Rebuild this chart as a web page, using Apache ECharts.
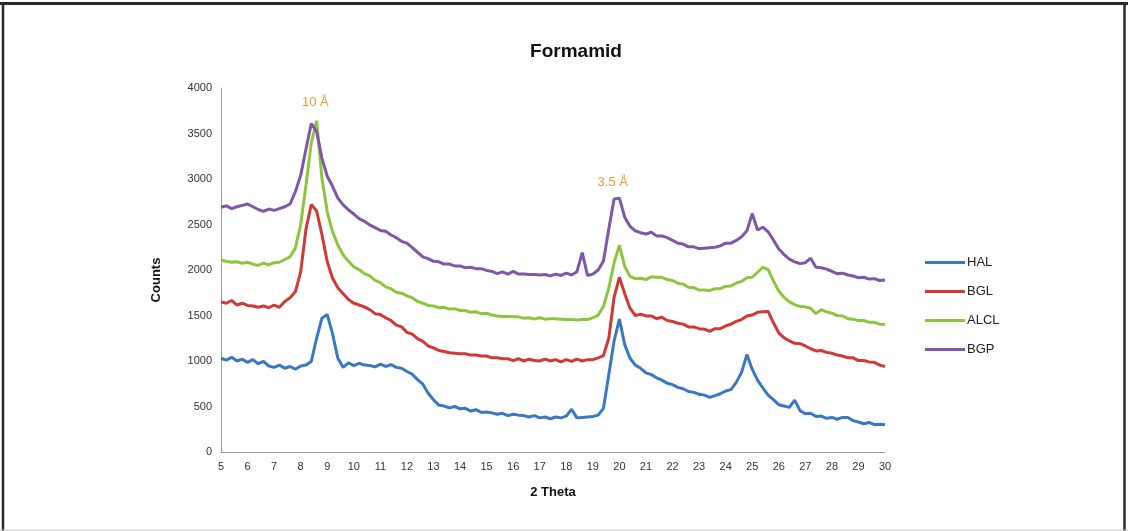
<!DOCTYPE html>
<html>
<head>
<meta charset="utf-8">
<script src="https://cdn.jsdelivr.net/npm/echarts@6/dist/echarts.min.js"></script>
<style>html,body{margin:0;padding:0;background:#fff;}#c{width:1128px;height:531px;}</style>
</head>
<body>
<div id="c"></div>
<script>
const theta = [
5.0,5.2,5.4,5.6,5.8, 6.0,6.2,6.4,6.6,6.8, 7.0,7.2,7.4,7.6,7.8, 8.0,8.2,8.4,8.6,8.8,
9.0,9.2,9.4,9.6,9.8, 10.0,10.2,10.4,10.6,10.8, 11.0,11.2,11.4,11.6,11.8, 12.0,12.2,12.4,12.6,12.8,
13.0,13.2,13.4,13.6,13.8, 14.0,14.2,14.4,14.6,14.8, 15.0,15.2,15.4,15.6,15.8, 16.0,16.2,16.4,16.6,16.8,
17.0,17.2,17.4,17.6,17.8, 18.0,18.2,18.4,18.6,18.8, 19.0,19.2,19.4,19.6,19.8, 20.0,20.2,20.4,20.6,20.8,
21.0,21.2,21.4,21.6,21.8, 22.0,22.2,22.4,22.6,22.8, 23.0,23.2,23.4,23.6,23.8, 24.0,24.2,24.4,24.6,24.8,
25.0,25.2,25.4,25.6,25.8, 26.0,26.2,26.4,26.6,26.8, 27.0,27.2,27.4,27.6,27.8, 28.0,28.2,28.4,28.6,28.8,
29.0,29.2,29.4,29.6,29.8, 30.0];

const HAL = [
1030,1010,1040,1000,1020, 985,1015,970,995,945, 930,955,920,940,910, 945,955,995,1250,1470,
1510,1300,1030,930,980, 950,975,955,950,935, 965,940,960,930,920, 885,855,795,745,645,
575,515,505,485,500, 475,480,450,465,435, 440,430,415,425,400, 415,405,400,385,400,
375,385,365,385,375, 395,470,375,380,385, 390,405,480,850,1220, 1460,1180,1030,955,920,
870,850,815,790,755, 740,710,695,665,655, 635,625,600,620,640, 670,685,765,875,1070,
910,790,705,625,575, 520,505,490,570,455, 420,425,390,395,370, 380,360,380,380,345,
330,310,325,300,305, 300];

const BGL = [
1650,1635,1665,1615,1635, 1610,1605,1590,1605,1585, 1615,1590,1655,1695,1760, 1980,2450,2720,2650,2390,
2090,1910,1805,1740,1675, 1635,1615,1595,1565,1520, 1510,1475,1445,1395,1375, 1315,1295,1245,1215,1165,
1145,1115,1105,1090,1085, 1080,1080,1065,1065,1055, 1055,1035,1035,1025,1025, 1005,1025,1000,1020,1005,
1000,1020,1000,1015,990, 1015,995,1020,1000,1015, 1015,1035,1060,1250,1700, 1920,1740,1580,1500,1515,
1495,1495,1465,1480,1445, 1435,1415,1405,1375,1375, 1355,1350,1325,1355,1355, 1385,1405,1435,1455,1495,
1505,1535,1540,1545,1420, 1310,1255,1220,1195,1190, 1165,1135,1110,1115,1095, 1085,1065,1055,1035,1035,
1005,1005,990,985,955, 940];

const ALCL = [
2110,2095,2085,2090,2075, 2085,2065,2050,2075,2055, 2080,2085,2115,2145,2240, 2500,2930,3400,3640,3010,
2640,2420,2275,2165,2095, 2035,2005,1960,1935,1885, 1860,1815,1795,1755,1745, 1715,1695,1655,1635,1610,
1605,1585,1590,1570,1575, 1555,1555,1535,1540,1520, 1525,1505,1495,1490,1490, 1485,1485,1470,1475,1460,
1475,1460,1465,1465,1460, 1455,1455,1450,1455,1455, 1475,1505,1600,1800,2080, 2270,2040,1930,1905,1910,
1895,1925,1920,1920,1895, 1885,1855,1845,1810,1805, 1780,1780,1775,1795,1795, 1820,1825,1855,1875,1915,
1920,1975,2030,2005,1880, 1770,1700,1650,1620,1600, 1595,1580,1520,1565,1540, 1525,1500,1495,1465,1460,
1445,1445,1425,1425,1405, 1400];

const BGP = [
2690,2705,2675,2695,2710, 2725,2695,2665,2645,2670, 2655,2675,2695,2725,2860, 3040,3330,3610,3520,3230,
3030,2920,2790,2715,2660, 2615,2565,2535,2495,2465, 2435,2425,2385,2355,2315, 2295,2245,2195,2145,2125,
2095,2090,2065,2065,2045, 2045,2025,2030,2015,2015, 1995,1985,1960,1980,1955, 1985,1955,1955,1950,1950,
1945,1950,1935,1955,1940, 1965,1945,1980,2190,1940, 1955,2000,2100,2450,2780, 2790,2580,2480,2430,2410,
2395,2415,2375,2375,2355, 2325,2295,2285,2255,2255, 2235,2240,2245,2250,2265, 2295,2295,2325,2365,2430,
2620,2440,2470,2420,2330, 2230,2170,2120,2090,2070, 2080,2130,2030,2025,2010, 1985,1960,1965,1945,1935,
1915,1920,1900,1905,1885, 1890];

const seriesNames = ['HAL','BGL','ALCL','BGP'];
const seriesValues = [HAL, BGL, ALCL, BGP];
const colors = ['#3A78C4','#D03A36','#8CC63E','#7E57A8'];
const annotations = [
  {text:'10 Å', at:[8.55, 3840]},
  {text:'3.5 Å', at:[19.75, 2960]}
];

const font = 'Liberation Sans, Arial, sans-serif';
const chart = echarts.init(document.getElementById('c'), null, {renderer:'canvas'});

const series = seriesNames.map((n, i) => ({
  name: n,
  type: 'line',
  data: theta.map((t, j) => [t, seriesValues[i][j]]),
  showSymbol: false,
  symbol: 'none',
  smooth: false,
  lineStyle: {width: 3, color: colors[i]},
  itemStyle: {color: colors[i]},
  z: 2 + i,
  animation: false
}));
series[3].markPoint = {
  symbol: 'circle', symbolSize: 0, silent: true, animation: false,
  data: annotations.map(a => ({coord: a.at, value: a.text})),
  label: {show: true, position: 'inside', formatter: p => p.value, color: '#EE9A3A', fontSize: 13, fontFamily: font}
};

chart.setOption({
  backgroundColor: '#ffffff',
  animation: false,
  title: {
    text: 'Formamid', left: 571, top: 37, textAlign: 'center',
    textStyle: {fontFamily: font, fontSize: 19, fontWeight: 'bold', color: '#111'}
  },
  legend: {
    orient: 'vertical', left: 920, top: 251,
    icon: 'rect', itemWidth: 40, itemHeight: 3, itemGap: 16,
    data: seriesNames,
    textStyle: {fontFamily: font, fontSize: 13, color: '#222', padding: [0,0,0,-3]}
  },
  grid: {left: 221, right: 243, top: 88, bottom: 79, containLabel: false},
  xAxis: {
    type: 'value', min: 5, max: 30, interval: 1,
    axisLine: {show: true, lineStyle: {color: '#999', width: 1}},
    axisTick: {show: false},
    splitLine: {show: false},
    axisLabel: {fontFamily: font, fontSize: 11, color: '#333', margin: 9, formatter: v => String(v)},
    name: '2 Theta', nameLocation: 'middle', nameGap: 34,
    nameTextStyle: {fontFamily: font, fontSize: 13, fontWeight: 'bold', color: '#111'}
  },
  yAxis: {
    type: 'value', min: 0, max: 4000, interval: 500,
    axisLine: {show: true, lineStyle: {color: '#999', width: 1}},
    axisTick: {show: false},
    splitLine: {show: false},
    axisLabel: {fontFamily: font, fontSize: 11, color: '#333', margin: 9, formatter: v => String(v)},
    name: 'Counts', nameLocation: 'middle', nameGap: 58, nameRotate: 90,
    nameTextStyle: {fontFamily: font, fontSize: 13, fontWeight: 'bold', color: '#111', padding: [0,0,0,-20]}
  },
  graphic: [
    {type:'line', shape:{x1:0,y1:3.5,x2:1128,y2:3.5}, style:{stroke:'#2a2a2a', lineWidth:3}, silent:true},
    {type:'line', shape:{x1:3,y1:3,x2:3,y2:531}, style:{stroke:'#2a2a2a', lineWidth:2.5}, silent:true},
    {type:'line', shape:{x1:1124.5,y1:3,x2:1124.5,y2:531}, style:{stroke:'#2a2a2a', lineWidth:2.5}, silent:true},
    {type:'line', shape:{x1:0,y1:530,x2:1128,y2:530}, style:{stroke:'#c8c8c8', lineWidth:1}, silent:true}
  ],
  series: series
});
</script>
</body>
</html>
